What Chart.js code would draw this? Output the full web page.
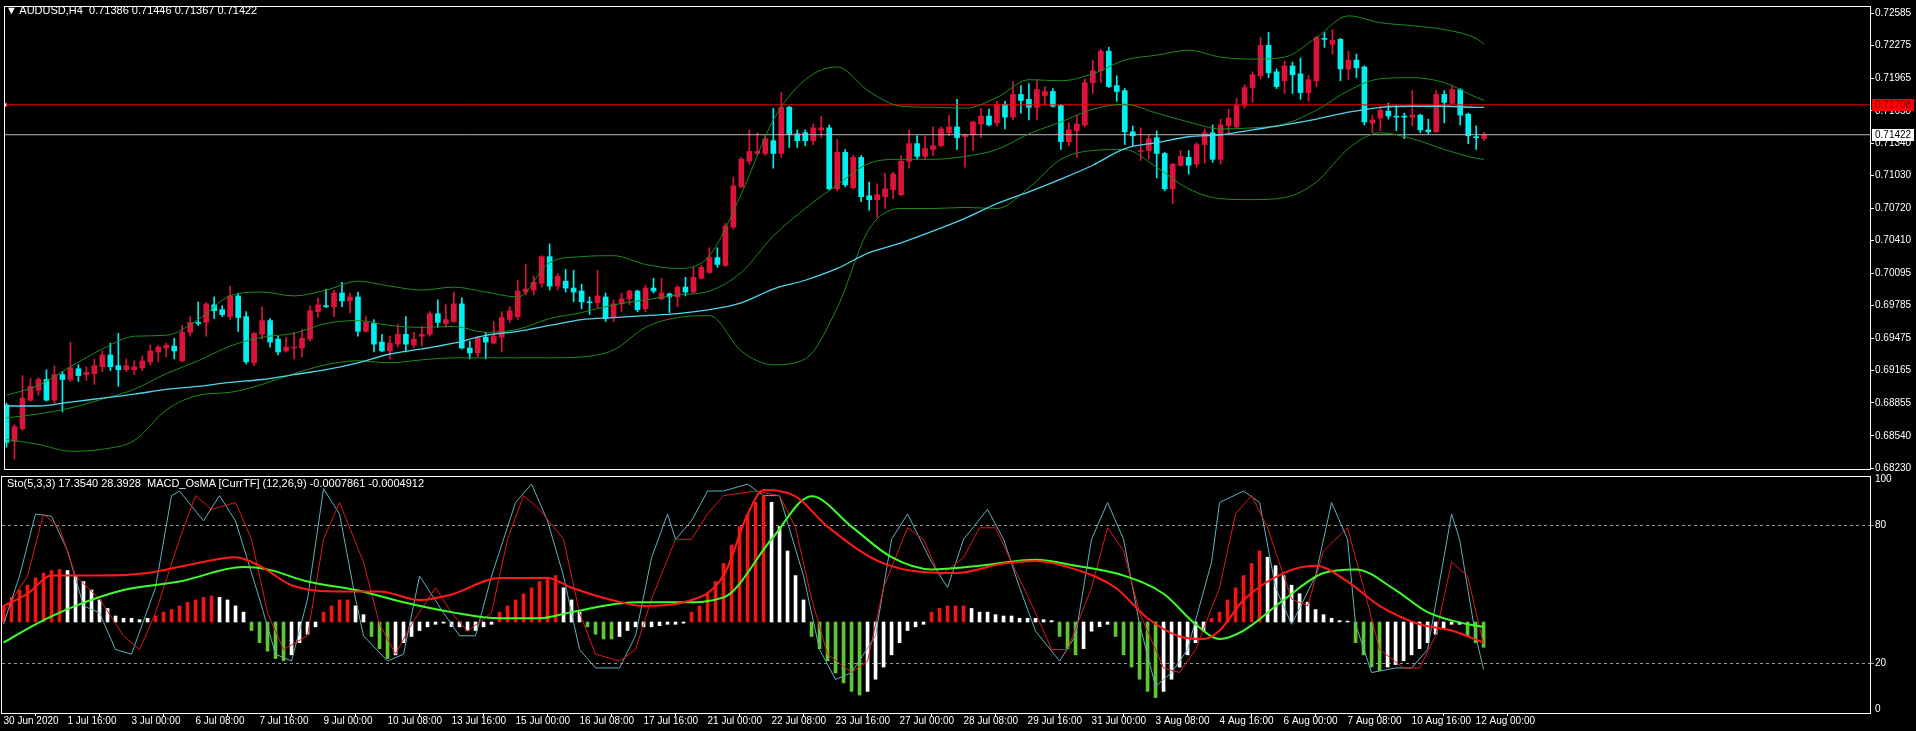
<!DOCTYPE html>
<html>
<head>
<meta charset="utf-8">
<script src="https://cdn.jsdelivr.net/npm/chart.js@4.4.1/dist/chart.umd.min.js"></script>
<style>
  html, body { margin: 0; padding: 0; background: #000; width: 1916px; height: 731px; overflow: hidden; }
  #mainWrap { position: absolute; left: 0; top: 0; width: 1916px; height: 476px; }
  #oscWrap { position: absolute; left: 0; top: 470px; width: 1916px; height: 261px; }
  .ttl { position: absolute; color: #fff; font: 11px "Liberation Sans", "DejaVu Sans", sans-serif; white-space: pre; }
</style>
</head>
<body>
<div id="mainWrap"><canvas id="mainChart"></canvas></div>
<div id="oscWrap"><canvas id="oscChart"></canvas></div>
<div class="ttl" style="left:6px;top:4px">▼ AUDUSD,H4  0.71386 0.71446 0.71367 0.71422</div>
<div class="ttl" style="left:7px;top:477px">Sto(5,3,3) 17.3540 28.3928  MACD_OsMA [CurrTF] (12,26,9) -0.0007861 -0.0004912</div>
<script>
// AUDUSD H4 candles, bar 0 = 30 Jun 2020 08:00
const opens = [0.68834,0.68486,0.68608,0.68881,0.68975,0.69079,0.68881,0.69126,0.69079,0.69182,
  0.69126,0.69135,0.69201,0.69314,0.69211,0.69173,0.69173,0.69192,0.69248,0.69342,
  0.69380,0.69399,0.69258,0.69531,0.69625,0.69625,0.69794,0.69747,0.69681,0.69879,
  0.69681,0.69239,0.69512,0.69643,0.69465,0.69352,0.69380,0.69380,0.69465,0.69728,
  0.69785,0.69775,0.69907,0.69832,0.69869,0.69540,0.69615,0.69437,0.69352,0.69418,
  0.69512,0.69408,0.69493,0.69512,0.69709,0.69615,0.69634,0.69803,0.69380,0.69333,
  0.69483,0.69427,0.69483,0.69653,0.69681,0.69916,0.69935,0.70001,0.70255,0.69973,
  0.70020,0.69954,0.69926,0.69822,0.69813,0.69869,0.69672,0.69803,0.69851,0.69926,
  0.69756,0.69954,0.69851,0.69898,0.69869,0.69963,0.69916,0.70048,0.70104,0.70246,
  0.70170,0.70537,0.70923,0.71168,0.71243,0.71243,0.71365,0.71243,0.71685,0.71431,
  0.71441,0.71365,0.71469,0.71488,0.70904,0.71253,0.70914,0.71205,0.70838,0.70801,
  0.70829,0.70895,0.70848,0.71168,0.71337,0.71215,0.71281,0.71318,0.71441,0.71497,
  0.71403,0.71422,0.71525,0.71601,0.71535,0.71714,0.71591,0.71808,0.71761,0.71685,
  0.71798,0.71836,0.71704,0.71356,0.71460,0.71516,0.71921,0.72034,0.72222,0.71892,
  0.71845,0.71450,0.71262,0.71271,0.71394,0.71243,0.70904,0.71130,0.71205,0.71140,
  0.71328,0.71441,0.71187,0.71507,0.71497,0.71704,0.71874,0.71987,0.72278,0.72024,
  0.71939,0.72081,0.72005,0.71826,0.71939,0.72344,0.72288,0.72335,0.72052,0.72137,
  0.72071,0.71535,0.71582,0.71648,0.71601,0.71601,0.71591,0.71610,0.71469,0.71450,
  0.71808,0.71723,0.71855,0.71619,0.71403,0.71386];
const highs = [0.68853,0.68646,0.69116,0.69088,0.69097,0.69173,0.69211,0.69154,0.69437,0.69220,
  0.69201,0.69276,0.69352,0.69427,0.69521,0.69276,0.69258,0.69305,0.69408,0.69408,
  0.69427,0.69474,0.69596,0.69681,0.69822,0.69813,0.69869,0.69785,0.69973,0.69907,
  0.69728,0.69531,0.69775,0.69662,0.69493,0.69483,0.69531,0.69559,0.69785,0.69860,
  0.69945,0.69935,0.70010,0.69907,0.69916,0.69681,0.69653,0.69512,0.69493,0.69606,
  0.69681,0.69531,0.69587,0.69728,0.69841,0.69794,0.69916,0.69860,0.69446,0.69493,
  0.69531,0.69634,0.69728,0.69775,0.70029,0.70180,0.70068,0.70264,0.70377,0.70095,
  0.70133,0.70123,0.69992,0.69869,0.70123,0.69907,0.69841,0.69907,0.69935,0.69935,
  0.69982,0.70048,0.70048,0.69907,0.69982,0.70057,0.70152,0.70170,0.70340,0.70340,
  0.70575,0.71017,0.71205,0.71469,0.71441,0.71412,0.71676,0.71826,0.71695,0.71469,
  0.71469,0.71525,0.71601,0.71516,0.71375,0.71281,0.71224,0.71224,0.70970,0.70951,
  0.71055,0.71064,0.71224,0.71469,0.71412,0.71412,0.71497,0.71497,0.71610,0.71761,
  0.71431,0.71554,0.71676,0.71667,0.71742,0.71742,0.71930,0.71892,0.71911,0.71949,
  0.71883,0.71864,0.71714,0.71535,0.71610,0.71958,0.72137,0.72241,0.72259,0.71987,
  0.71864,0.71507,0.71488,0.71422,0.71460,0.71253,0.71149,0.71271,0.71271,0.71347,
  0.71478,0.71516,0.71572,0.71667,0.71770,0.71902,0.72024,0.72353,0.72401,0.72052,
  0.72128,0.72118,0.72156,0.71987,0.72363,0.72401,0.72429,0.72344,0.72222,0.72194,
  0.72081,0.71610,0.71695,0.71723,0.71704,0.71629,0.71845,0.71619,0.71572,0.71845,
  0.71845,0.71892,0.71864,0.71629,0.71507,0.71446];
const lows = [0.68430,0.68317,0.68589,0.68872,0.68928,0.68872,0.68853,0.68768,0.69060,0.69060,
  0.69069,0.69032,0.69154,0.69163,0.69013,0.69154,0.69126,0.69163,0.69220,0.69248,
  0.69295,0.69276,0.69248,0.69493,0.69596,0.69493,0.69662,0.69681,0.69653,0.69540,
  0.69229,0.69211,0.69465,0.69389,0.69314,0.69342,0.69276,0.69295,0.69446,0.69672,
  0.69766,0.69681,0.69775,0.69719,0.69493,0.69531,0.69342,0.69342,0.69276,0.69389,
  0.69342,0.69389,0.69399,0.69493,0.69578,0.69578,0.69625,0.69371,0.69276,0.69295,
  0.69276,0.69418,0.69342,0.69625,0.69653,0.69888,0.69888,0.69963,0.69935,0.69935,
  0.69916,0.69822,0.69756,0.69700,0.69766,0.69634,0.69634,0.69728,0.69794,0.69728,
  0.69728,0.69907,0.69841,0.69719,0.69775,0.69879,0.69907,0.70039,0.70095,0.70152,
  0.70161,0.70518,0.70914,0.71140,0.71224,0.71224,0.71102,0.71205,0.71300,0.71300,
  0.71318,0.71328,0.71394,0.70895,0.70886,0.70923,0.70904,0.70782,0.70697,0.70631,
  0.70716,0.70810,0.70838,0.71102,0.71187,0.71187,0.71224,0.71309,0.71412,0.71281,
  0.71111,0.71271,0.71394,0.71507,0.71507,0.71478,0.71563,0.71629,0.71563,0.71563,
  0.71704,0.71685,0.71281,0.71318,0.71205,0.71497,0.71817,0.71921,0.71874,0.71742,
  0.71328,0.71318,0.71177,0.71187,0.71008,0.70886,0.70763,0.71121,0.71045,0.71111,
  0.71149,0.71158,0.71140,0.71431,0.71488,0.71676,0.71732,0.71958,0.71968,0.71864,
  0.71817,0.71817,0.71761,0.71742,0.71883,0.72259,0.72194,0.71939,0.71949,0.71968,
  0.71516,0.71441,0.71460,0.71572,0.71460,0.71384,0.71507,0.71441,0.71431,0.71441,
  0.71535,0.71714,0.71516,0.71337,0.71281,0.71367];
const closes = [0.68477,0.68627,0.68900,0.69013,0.69079,0.68881,0.69126,0.69079,0.69192,0.69116,
  0.69145,0.69211,0.69314,0.69201,0.69173,0.69211,0.69201,0.69258,0.69352,0.69389,
  0.69408,0.69352,0.69531,0.69625,0.69615,0.69803,0.69737,0.69700,0.69879,0.69672,
  0.69248,0.69521,0.69643,0.69437,0.69342,0.69389,0.69389,0.69474,0.69737,0.69794,
  0.69775,0.69907,0.69832,0.69869,0.69540,0.69625,0.69418,0.69352,0.69427,0.69512,
  0.69418,0.69465,0.69512,0.69709,0.69625,0.69653,0.69803,0.69380,0.69333,0.69483,
  0.69437,0.69493,0.69672,0.69737,0.69926,0.69945,0.70010,0.70255,0.69973,0.70067,
  0.69954,0.69916,0.69822,0.69813,0.69879,0.69662,0.69803,0.69851,0.69926,0.69747,
  0.69954,0.69926,0.69907,0.69869,0.69963,0.69916,0.70057,0.70152,0.70246,0.70180,
  0.70547,0.70933,0.71187,0.71262,0.71262,0.71384,0.71243,0.71685,0.71422,0.71365,
  0.71365,0.71488,0.71488,0.70904,0.71253,0.70942,0.71205,0.70829,0.70801,0.70848,
  0.70904,0.71045,0.71168,0.71337,0.71215,0.71290,0.71318,0.71478,0.71497,0.71394,
  0.71422,0.71544,0.71601,0.71516,0.71714,0.71591,0.71808,0.71751,0.71685,0.71855,
  0.71836,0.71695,0.71356,0.71469,0.71525,0.71921,0.72034,0.72222,0.71883,0.71836,
  0.71450,0.71412,0.71271,0.71384,0.71243,0.70904,0.71140,0.71215,0.71130,0.71328,
  0.71441,0.71187,0.71516,0.71582,0.71704,0.71874,0.71996,0.72278,0.72015,0.71883,
  0.72081,0.71996,0.71826,0.71949,0.72353,0.72335,0.72325,0.72052,0.72137,0.72062,
  0.71544,0.71563,0.71657,0.71601,0.71591,0.71591,0.71610,0.71469,0.71450,0.71808,
  0.71732,0.71855,0.71610,0.71412,0.71394,0.71422];

// main window indicator lines, read at these bars
const lineBars = [0,4,8,12,16,20,24,28,32,36,40,44,48,52,56,60,64,68,72,76,80,84,88,92,
  96,100,104,108,112,116,120,124,128,132,136,140,144,148,152,156,160,164,168,172,176,180,184,185];
const bbUpper = [0.68928,0.69022,0.69201,0.69371,0.69493,0.69502,0.69653,0.69879,0.69916,0.69879,
  0.69935,0.70020,0.69973,0.69935,0.69963,0.69916,0.69869,0.70199,0.70255,0.70264,
  0.70180,0.70142,0.70264,0.70857,0.71563,0.71949,0.72071,0.71836,0.71695,0.71685,
  0.71676,0.71779,0.71949,0.71939,0.72005,0.72137,0.72184,0.72231,0.72165,0.72146,
  0.72165,0.72353,0.72560,0.72495,0.72466,0.72429,0.72344,0.72288];
const bbMiddle = [0.68712,0.68749,0.68806,0.68891,0.68985,0.69135,0.69258,0.69399,0.69483,0.69521,
  0.69615,0.69643,0.69596,0.69578,0.69587,0.69531,0.69559,0.69662,0.69719,0.69794,
  0.69841,0.69888,0.69926,0.70105,0.70453,0.70716,0.70942,0.71149,0.71187,0.71187,
  0.71215,0.71281,0.71431,0.71544,0.71667,0.71714,0.71629,0.71544,0.71478,0.71488,
  0.71525,0.71657,0.71845,0.71958,0.71968,0.71921,0.71780,0.71751];
const bbLower = [0.68505,0.68458,0.68392,0.68411,0.68495,0.68787,0.68928,0.68956,0.69032,0.69135,
  0.69220,0.69258,0.69239,0.69267,0.69286,0.69286,0.69286,0.69286,0.69295,0.69361,
  0.69578,0.69672,0.69690,0.69352,0.69220,0.69276,0.69766,0.70519,0.70716,0.70716,
  0.70726,0.70716,0.70914,0.71187,0.71271,0.71281,0.71111,0.70904,0.70810,0.70801,
  0.70820,0.70970,0.71290,0.71441,0.71384,0.71281,0.71196,0.71187];
const maLine = [0.68825,0.68825,0.68862,0.68900,0.68938,0.68985,0.69013,0.69051,0.69079,0.69126,
  0.69173,0.69239,0.69323,0.69371,0.69427,0.69502,0.69540,0.69596,0.69653,0.69672,
  0.69690,0.69709,0.69747,0.69813,0.69945,0.70029,0.70142,0.70293,0.70387,0.70500,
  0.70622,0.70763,0.70876,0.70998,0.71130,0.71290,0.71347,0.71403,0.71422,0.71469,
  0.71516,0.71572,0.71638,0.71685,0.71695,0.71695,0.71685,0.71685];

const alertLevel = 0.71708;
const bidLevel = 0.71422;
const priceTicks = [0.72585,0.72275,0.71965,0.71650,0.71340,0.71030,0.70720,0.70410,
  0.70095,0.69785,0.69475,0.69165,0.68855,0.68540,0.68230];

// lower window, in the window's 0..100 units
const oscTicks = [0, 20, 80, 100];
const stochMainBars = [0,2,4,6,8,10,12,14,16,19,21,22,25,27,29,32,34,36,38,40,42,44,45,48,50,52,55,57,59,61,
  64,66,68,70,72,74,77,79,81,83,84,86,88,90,93,95,97,100,102,104,106,109,111,113,116,118,120,123,125,127,
  129,132,134,136,138,140,142,144,146,148,151,152,155,157,159,161,164,166,168,169,171,174,176,178,181,182,184,185];
const stochMain = [37,58,85,84,69,45,42,26,24,53,93,95,82,93,82,48,24,21,48,96,85,48,32,21,24,58,42,32,32,58,
  90,98,82,58,26,18,18,32,66,85,74,82,95,95,98,93,93,58,26,13,16,32,74,85,64,53,74,87,74,53,
  34,21,32,74,90,74,37,10,16,26,64,90,95,90,53,37,58,90,74,37,16,18,18,26,85,74,32,17.35];
const stochSignalBars = [0,3,5,7,9,12,15,17,19,22,24,26,29,31,33,35,38,40,42,45,47,49,51,54,56,58,61,63,65,67,
  70,72,74,77,79,81,84,86,88,90,94,97,99,101,103,106,108,110,113,115,117,120,122,124,126,129,131,133,136,138,
  140,142,145,147,149,152,154,156,158,161,163,165,168,170,172,175,177,179,181,183,185];
const stochSignal = [42,58,85,79,58,48,32,26,42,74,93,87,90,74,42,26,32,74,90,64,37,24,37,53,42,34,42,74,93,87,
  74,42,24,21,26,48,74,74,85,93,95,93,79,48,24,16,21,53,79,74,58,66,79,79,64,42,26,26,53,79,
  69,42,18,16,26,53,85,93,79,48,45,69,79,53,26,18,18,32,64,58,28.39];
const macdGreenBars = [0,4,9,15,22,30,33,38,44,50,56,62,67,71,79,85,90,96,101,106,111,116,122,129,134,140,
  145,149,152,155,160,165,169,174,178,183,185];
const macdGreen = [29,37,45,51.9,55.6,61.9,60.9,55.6,51.9,46.6,42.3,39.6,39.6,42.3,46.6,46.6,48.7,74,92.7,79.5,
  66.2,60.9,62.5,65.1,62.5,58.2,50.3,37,30.6,34.3,47.6,59.3,60.9,51.9,42.3,37,35.9];
const macdRedBars = [0,3,6,12,18,24,29,32,36,42,47,52,56,62,68,71,76,80,85,90,93,95,99,103,110,119,125,129,
  134,139,143,147,150,152,155,160,164,168,172,177,181,185];
const macdRed = [45,50.3,58.2,58.2,59.3,63.5,66.2,62.5,54,51.3,51.3,47.6,50,57.2,57.2,52.9,47.6,45,46.6,58.2,
  84.8,95.4,92.7,79.5,63.5,59.3,63.5,64.6,60.9,52.9,39.6,31.7,30.6,34.3,47.6,59.3,62.5,55.6,45,37,34.3,29];
const osmaBase = 38;
const osmaTips = [45,48.7,51.9,54,57.2,59.3,60.4,60.9,60.4,58.2,
  55.6,51.9,47.6,43.9,40.6,39.6,39.6,39,39.6,40.6,
  42.3,43.4,45,46.6,47.6,48.7,49.3,48.7,47.6,45,
  42.3,34.3,29,25.3,22.1,21.1,23.7,29,32.7,35.9,
  42.3,45,47.6,47.6,45,41.2,31.7,26.4,22.1,23.7,
  29,31.7,34.3,35.9,37,37.5,36,35.9,34.3,34.3,
  35.9,37,42.3,45,47.6,50.3,52.9,55.6,57.2,58.2,
  52.9,47.6,42.3,35.9,32.7,30.6,30.6,31.7,34.3,35.9,
  35.9,35.9,36.4,37,37,37.5,42.3,45,50.3,55.6,
  63.5,71.5,79.5,84.8,90.1,92.7,90.1,79.5,68.9,58.2,
  47.6,31.7,26.4,21.1,15.8,11.5,7.8,6.2,7.8,13.1,
  18.4,23.7,29,34.3,35.9,37,42.3,43.9,45,45,
  45,43.9,42.3,42.3,41.2,40.6,40.6,39.6,39.6,39.6,
  39,38.6,31.7,26.4,23.7,26.4,34,36,37,31.7,
  23.7,18.4,13.1,7.8,5.1,7.8,13.1,18.4,23.7,29,
  34.3,39.6,42.3,47.6,52.9,58.2,63.5,68.9,66.2,62.5,
  58.2,54,50.3,46.6,43.4,41.2,39.6,38.6,38.4,29,
  23.7,18.4,16.8,18.4,19.5,21.1,23.7,26.4,29,32.7,
  35.4,37,37,31.7,29,27];
// R = rising above zero, W = fading, G = falling below zero
const osmaState = ('RRRRRRRRWW' + 'WWWWWWWWW' + 'RRRRRRRR' + 'WWWW' + 'GGGGG' + 'WWWW' + 'RRRR' + 'WW' +
  'GGG' + 'WWWWWWWWWWWWW' + 'RRRRRRRR' + 'WWW' + 'GGGG' + 'WWWWWWWWW' + 'RRRRRRRRRR' + 'WWWWW' +
  'GGGGGGG' + 'WWWWWWWW' + 'RRRRR' + 'WWWWWWWWWWW' + 'GGG' + 'WWWW' + 'GGGGGG' + 'WWWWWW' +
  'RRRRRRR' + 'WWWWWWWWWWW' + 'GGGG' + 'WWWWWWWWWW' + 'GGG').split('');

const timeLabels = ['30 Jun 2020','1 Jul 16:00','3 Jul 00:00','6 Jul 08:00','7 Jul 16:00','9 Jul 00:00',
  '10 Jul 08:00','13 Jul 16:00','15 Jul 00:00','16 Jul 08:00','17 Jul 16:00','21 Jul 00:00',
  '22 Jul 08:00','23 Jul 16:00','27 Jul 00:00','28 Jul 08:00','29 Jul 16:00','31 Jul 00:00',
  '3 Aug 08:00','4 Aug 16:00','6 Aug 00:00','7 Aug 08:00','10 Aug 16:00','12 Aug 00:00'];
const timeLabelBars = [0,8,16,24,32,40,48,56,64,72,80,88,96,104,112,120,128,136,144,152,160,168,176,184];

const bullColor = '#dc143c';
const bearColor = '#00f0f0';
const osmaColors = { R: '#f01414', W: '#ffffff', G: '#5cc832' };
const xMin = -0.19;
const xMax = 233.3;
const axisFont = { family: 'Liberation Sans', size: 10 };

const candleColors = opens.map((o, i) => closes[i] >= o ? bullColor : bearColor);
const pairs = (bars, values) => bars.map((b, i) => ({ x: b, y: values[i] }));
const levelLine = (value) => [{ x: xMin, y: value }, { x: xMax, y: value }];

const framePlugin = {
  id: 'frame',
  afterDraw(chart) {
    const { ctx, chartArea: a } = chart;
    ctx.save();
    ctx.strokeStyle = '#ffffff';
    ctx.lineWidth = 1;
    ctx.strokeRect(a.left - 0.5, a.top - 0.5, a.right - a.left + 1, a.bottom - a.top + 1);
    ctx.restore();
  }
};

const priceTagPlugin = {
  id: 'priceTags',
  afterDraw(chart) {
    const { ctx, chartArea: a, scales } = chart;
    const drawTag = (value, bg, fg) => {
      const py = Math.round(scales.y.getPixelForValue(value));
      ctx.save();
      ctx.fillStyle = bg;
      ctx.fillRect(a.right + 2, py - 6, 42, 12);
      ctx.fillStyle = fg;
      ctx.font = '10px "Liberation Sans"';
      ctx.textBaseline = 'middle';
      ctx.fillText(value.toFixed(5), a.right + 5, py + 0.5);
      ctx.restore();
    };
    drawTag(alertLevel, '#ff0000', '#7a0000');
    drawTag(bidLevel, '#ffffff', '#000000');
  }
};

const mainChart = new Chart(document.getElementById('mainChart').getContext('2d'), {
  type: 'bar',
  data: {
    datasets: [
      { type: 'line', data: pairs(lineBars, maLine), borderColor: '#50d4ec', borderWidth: 1.3, order: 0 },
      { type: 'line', data: pairs(lineBars, bbUpper), borderColor: '#1f8a1f', borderWidth: 1, order: 0 },
      { type: 'line', data: pairs(lineBars, bbMiddle), borderColor: '#1f8a1f', borderWidth: 1, order: 0 },
      { type: 'line', data: pairs(lineBars, bbLower), borderColor: '#1f8a1f', borderWidth: 1, order: 0 },
      { type: 'line', data: levelLine(alertLevel), borderColor: '#ff0000', borderWidth: 1, order: 0,
        pointRadius: ctx => ctx.dataIndex === 0 ? 2.5 : 0, pointStyle: 'rect',
        pointBackgroundColor: '#ffffff', pointBorderColor: '#ff0000' },
      { type: 'line', data: levelLine(bidLevel), borderColor: '#b8b8b8', borderWidth: 1, order: 0 },
      { data: opens.map((o, i) => ({ x: i, y: [o, closes[i]] })), backgroundColor: candleColors,
        barThickness: 5, minBarLength: 1, grouped: false, order: 1 },
      { data: lows.map((l, i) => ({ x: i, y: [l, highs[i]] })), backgroundColor: candleColors,
        barThickness: 1, grouped: false, order: 2 }
    ]
  },
  options: {
    responsive: true,
    maintainAspectRatio: false,
    animation: false,
    devicePixelRatio: 1,
    layout: { padding: { left: 2, top: 2, right: 0, bottom: 4 } },
    elements: {
      point: { radius: 0 },
      line: { cubicInterpolationMode: 'monotone' }
    },
    plugins: { legend: { display: false }, tooltip: { enabled: false } },
    scales: {
      x: { type: 'linear', min: xMin, max: xMax, offset: false, display: false },
      y: {
        position: 'right',
        min: 0.68222,
        max: 0.72645,
        afterFit: s => { s.width = 46; },
        afterBuildTicks: s => { s.ticks = priceTicks.map(v => ({ value: v })); },
        ticks: { color: '#ffffff', font: axisFont, padding: 1, callback: v => v.toFixed(5) },
        grid: { drawOnChartArea: false, color: '#ffffff', tickLength: 4 },
        border: { display: false }
      }
    }
  },
  plugins: [framePlugin, priceTagPlugin]
});

const oscChart = new Chart(document.getElementById('oscChart').getContext('2d'), {
  type: 'bar',
  data: {
    datasets: [
      { type: 'line', data: pairs(macdRedBars, macdRed), borderColor: '#ff1a1a', borderWidth: 2, order: 0 },
      { type: 'line', data: pairs(macdGreenBars, macdGreen), borderColor: '#3cff28', borderWidth: 2, order: 0 },
      { type: 'line', data: pairs(stochSignalBars, stochSignal), borderColor: '#e01818', borderWidth: 1,
        cubicInterpolationMode: 'default', tension: 0, order: 1 },
      { type: 'line', data: pairs(stochMainBars, stochMain), borderColor: '#62aebd', borderWidth: 1,
        cubicInterpolationMode: 'default', tension: 0, order: 1 },
      { data: osmaTips.map((t, i) => ({ x: i, y: [osmaBase, t] })),
        backgroundColor: osmaState.map(s => osmaColors[s]),
        barThickness: 3, grouped: false, order: 2 }
    ]
  },
  options: {
    responsive: true,
    maintainAspectRatio: false,
    animation: false,
    devicePixelRatio: 1,
    layout: { padding: { left: 2, top: 5, right: 0, bottom: 0 } },
    elements: {
      point: { radius: 0 },
      line: { cubicInterpolationMode: 'monotone' }
    },
    plugins: { legend: { display: false }, tooltip: { enabled: false } },
    scales: {
      x: {
        type: 'linear', min: xMin, max: xMax, offset: false,
        afterFit: s => { s.height = 18; },
        afterBuildTicks: s => { s.ticks = timeLabelBars.map(v => ({ value: v })); },
        ticks: { color: '#ffffff', font: axisFont, align: 'start', maxRotation: 0, autoSkip: false, padding: -1,
          callback: v => timeLabels[timeLabelBars.indexOf(v)] },
        grid: { drawOnChartArea: false, color: '#ffffff', tickLength: 3 },
        border: { display: false }
      },
      y: {
        position: 'right',
        min: -1.6,
        max: 101.1,
        afterFit: s => { s.width = 46; },
        afterBuildTicks: s => { s.ticks = oscTicks.map(v => ({ value: v })); },
        ticks: { color: '#ffffff', font: axisFont, padding: 1 },
        grid: {
          color: ctx => (ctx.tick && (ctx.tick.value === 20 || ctx.tick.value === 80)) ? '#9a9a9a' : 'rgba(0,0,0,0)',
          tickLength: 4
        },
        border: { display: false, dash: [3, 3] }
      }
    }
  },
  plugins: [framePlugin]
});
</script>
</body>
</html>
